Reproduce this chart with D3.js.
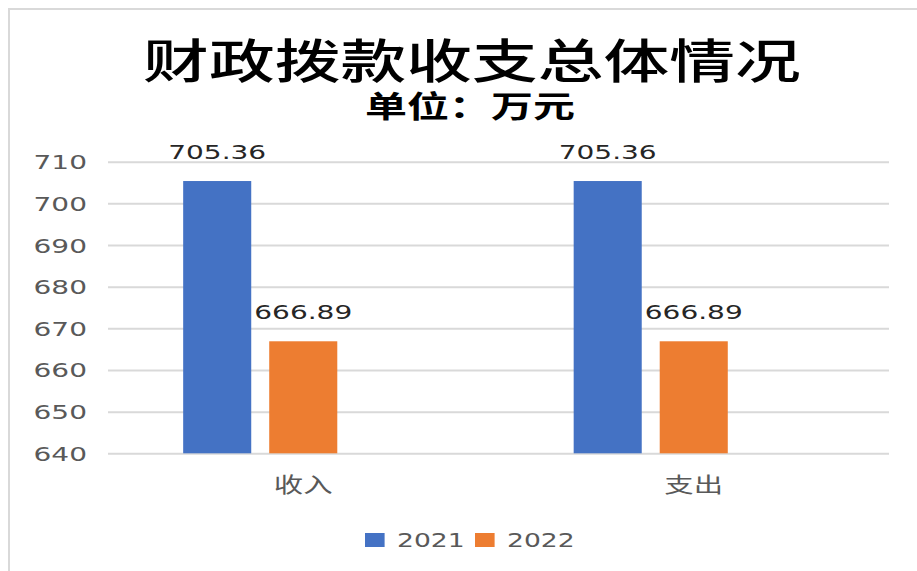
<!DOCTYPE html>
<html><head><meta charset="utf-8">
<script src="https://cdn.jsdelivr.net/npm/d3@7"></script>
<style>body{margin:0;background:#fff;overflow:hidden} svg{display:block}</style>
</head><body><svg id="c" width="917" height="571"></svg>
<script>
// ---- data ----
const titleText = "财政拨款收支总体情况";
const subtitleText = "单位：万元";
const categories = ["收入", "支出"];
const seriesNames = ["2021", "2022"];
const values2021 = [705.36, 705.36];
const values2022 = [666.89, 666.89];
const yTickValues = [640, 650, 660, 670, 680, 690, 700, 710];
const seriesColors = ["#4472C4", "#ED7D31"];
// the reference layout reserves a third (empty) slot in each cluster
const slotNames = ["2021", "2022", "_empty"];

// ---- layout ----
const SX = 1.4; // the reference picture is stretched horizontally
const W = 917, H = 571;
const plot = {left: 108, right: 889, top: 161.7, bottom: 453.3};
const cjk = "'Noto Sans CJK SC','Noto Sans',sans-serif";
const num = "'DejaVu Sans',Verdana,sans-serif";

const svg = d3.select("#c");

// chart border
svg.append("rect").attr("x", 9).attr("y", 9).attr("width", W + 20).attr("height", H + 20)
  .attr("fill", "#fff").attr("stroke", "#d9d9d9").attr("stroke-width", 2);

function stext(g, x, y, txt, opts) {
  const t = g.append("text")
    .attr("transform", `translate(${x},${y}) scale(${SX},1)`)
    .attr("text-anchor", opts.anchor || "middle")
    .attr("dominant-baseline", opts.baseline || "auto")
    .style("font-family", opts.family)
    .style("font-size", opts.size + "px")
    .style("font-weight", opts.weight || "normal")
    .attr("fill", opts.fill || "#000")
    .text(txt);
  return t;
}

// titles
stext(svg, 472, 57, titleText, {family: cjk, size: 47, weight: 500, baseline: "central", fill: "#000"});
stext(svg, 470, 104, subtitleText, {family: cjk, size: 30, weight: "bold", baseline: "central", fill: "#000"});

// scales
const x0 = d3.scaleBand().domain(categories).range([plot.left, plot.right])
  .paddingInner(0.385).paddingOuter(0.1925);
const x1 = d3.scaleBand().domain(slotNames).range([0, x0.bandwidth()])
  .paddingInner(0.209).paddingOuter(0);
const y = d3.scaleLinear().domain([640, 710]).range([plot.bottom, plot.top]);

// gridlines
const grid = svg.append("g").attr("transform", `translate(${plot.left},0)`)
  .call(d3.axisLeft(y).tickValues(yTickValues).tickSize(-(plot.right - plot.left)).tickFormat(""));
grid.select(".domain").remove();
grid.selectAll("line").attr("stroke", "#d9d9d9").attr("stroke-width", 2);

// y axis labels
const yAxis = svg.append("g").attr("transform", `translate(${plot.left},0)`)
  .call(d3.axisLeft(y).tickValues(yTickValues).tickSize(0).tickFormat(d3.format("d")));
yAxis.select(".domain").remove();
yAxis.selectAll("line").remove();
yAxis.selectAll("text")
  .attr("x", null).attr("dy", null)
  .attr("transform", `translate(-21,0) scale(${SX},1)`)
  .attr("text-anchor", "end")
  .attr("dominant-baseline", "central")
  .attr("fill", "#595959")
  .style("font-family", num).style("font-size", "20px");

// x axis labels
const xAxis = svg.append("g").attr("transform", `translate(0,${plot.bottom})`)
  .call(d3.axisBottom(x0).tickSize(0));
xAxis.select(".domain").remove();
xAxis.selectAll("text")
  .attr("y", null).attr("dy", null)
  .attr("transform", `translate(0,29) scale(${SX},1)`)
  .attr("dominant-baseline", "central")
  .attr("fill", "#595959")
  .style("font-family", cjk).style("font-size", "21px");

// bars
const seriesValues = [values2021, values2022];
const barData = [];
categories.forEach((c, i) => {
  seriesNames.forEach((s, j) => {
    barData.push({cat: c, series: s, value: seriesValues[j][i], color: seriesColors[j]});
  });
});

const bars = svg.append("g");
bars.selectAll("rect").data(barData).join("rect")
  .attr("x", d => x0(d.cat) + x1(d.series))
  .attr("width", x1.bandwidth())
  .attr("y", d => y(d.value))
  .attr("height", d => y(640) - y(d.value))
  .attr("fill", d => d.color);

// data labels
const labels = svg.append("g");
barData.forEach(d => {
  stext(labels, x0(d.cat) + x1(d.series) + x1.bandwidth() / 2, y(d.value) - 22, d.value.toFixed(2),
    {family: num, size: 20, fill: "#262626"});
});

// legend
const legend = svg.append("g");
const legendX = [365, 475];
seriesNames.forEach((s, j) => {
  legend.append("rect").attr("x", legendX[j]).attr("y", 533).attr("width", 14 * SX).attr("height", 14)
    .attr("fill", seriesColors[j]);
  stext(legend, legendX[j] + 32, 540, s, {family: num, size: 19, anchor: "start", baseline: "central", fill: "#595959"});
});
</script>
</body></html>
